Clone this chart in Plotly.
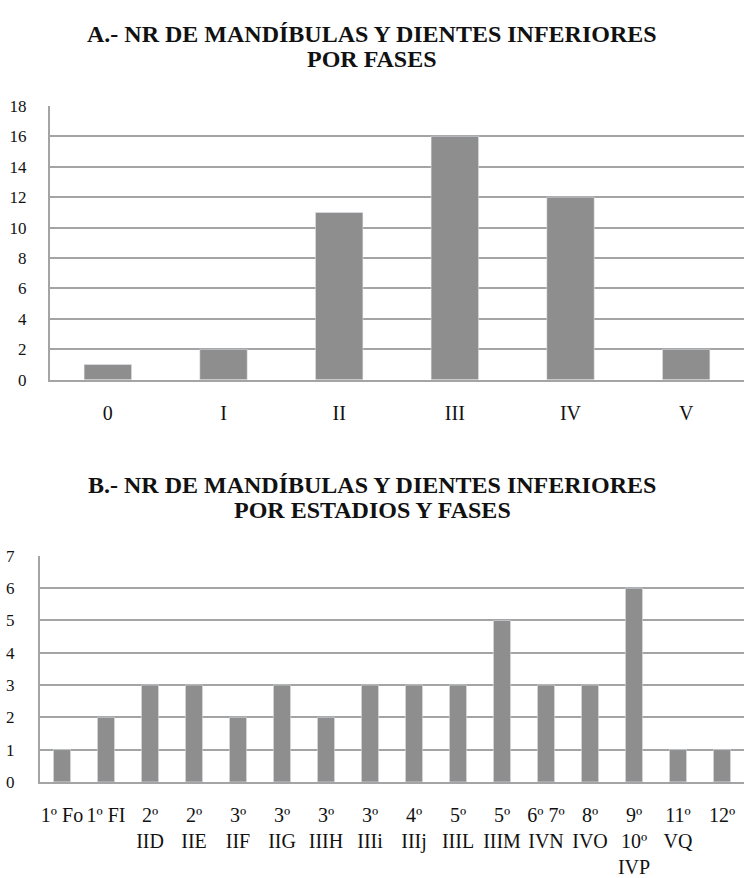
import plotly.graph_objects as go

# Panel A: remains by phase
fases = ["0", "I", "II", "III", "IV", "V"]
nr_fases = [1, 2, 11, 16, 12, 2]

# Panel B: remains by stage and phase
estadios = [
    "1º Fo", "1º FI", "2º<br>IID", "2º<br>IIE", "3º<br>IIF", "3º<br>IIG",
    "3º<br>IIIH", "3º<br>IIIi", "4º<br>IIIj", "5º<br>IIIL", "5º<br>IIIM",
    "6º 7º<br>IVN", "8º<br>IVO", "9º<br>10º<br>IVP", "11º<br>VQ", "12º",
]
nr_estadios = [1, 2, 3, 3, 2, 3, 2, 3, 3, 3, 5, 3, 3, 6, 1, 1]

ticks_a = [0, 2, 4, 6, 8, 10, 12, 14, 16, 18]
ticks_b = [0, 1, 2, 3, 4, 5, 6, 7]

titulo_a = ["A.- NR DE MANDÍBULAS Y DIENTES INFERIORES", "POR FASES"]
titulo_b = ["B.- NR DE MANDÍBULAS Y DIENTES INFERIORES", "POR ESTADIOS Y FASES"]

W, H = 744, 878
FONT = "Liberation Serif, Times New Roman, serif"
BAR = "#8e8e8e"
GRID = "#a4a4a4"
INK = "#111111"


def py(px):
    """Convert a pixel row (from top) to paper fraction."""
    return 1 - px / H


fig = go.Figure()
fig.add_trace(go.Bar(x=fases, y=nr_fases, marker_color=BAR, width=0.41,
                     xaxis="x", yaxis="y", showlegend=False))
fig.add_trace(go.Bar(x=estadios, y=nr_estadios, marker_color=BAR, width=0.39,
                     xaxis="x2", yaxis="y2", showlegend=False))

xaxis_common = dict(
    type="category", showline=True, linecolor=GRID, linewidth=2,
    tickfont=dict(family=FONT, size=20, color=INK),
    ticks="", ticklabelstandoff=14,
)
yaxis_common = dict(
    showgrid=True, gridcolor=GRID, gridwidth=2,
    showline=True, linecolor=GRID, linewidth=2,
    tickfont=dict(family=FONT, size=17, color=INK),
    ticks="", zeroline=False,
)

# Titles: one annotation per line so the line spacing can be set directly
annotations = []
for texto, rows in ((titulo_a, (26, 51)), (titulo_b, (487, 512))):
    for linea, row in zip(texto, rows):
        annotations.append(dict(
            text=linea, x=0.5, y=py(row), xref="paper", yref="paper",
            showarrow=False, xanchor="center", yanchor="middle",
            font=dict(family=FONT, size=24, color=INK, weight="bold"),
        ))

fig.update_layout(
    width=W, height=H,
    margin=dict(l=0, r=0, t=0, b=0),
    paper_bgcolor="white", plot_bgcolor="white",
    xaxis=dict(domain=[50 / W, 1], anchor="y", **xaxis_common),
    yaxis=dict(domain=[py(379), py(99)], anchor="x", range=[0, 18],
               tickvals=ticks_a, ticklabelstandoff=18, **yaxis_common),
    xaxis2=dict(domain=[40 / W, 1], anchor="y2", **xaxis_common),
    yaxis2=dict(domain=[py(790), py(559)], anchor="x2", range=[0, 7],
                tickvals=ticks_b, ticklabelstandoff=20, **yaxis_common),
    annotations=annotations,
)

fig.write_html("out.html")
